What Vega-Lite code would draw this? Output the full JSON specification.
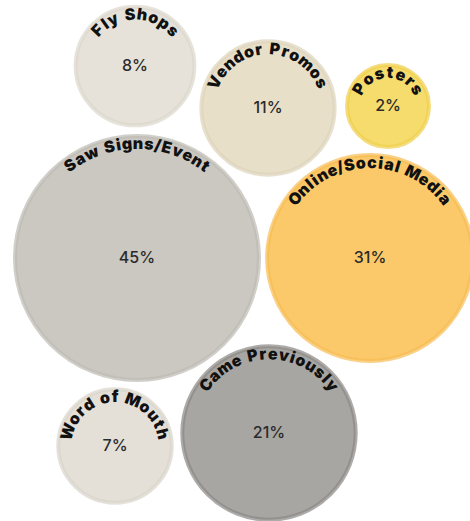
{
  "$schema": "https://vega.github.io/schema/vega-lite/v6.json",
  "autosize": {"type": "none"},
  "width": 470,
  "height": 521,
  "padding": 0,
  "background": "#ffffff",
  "config": {"view": {"stroke": null}},
  "data": {
    "values": [
      {"label": "Fly Shops", "value": 0.08, "x": 135, "y": 66},
      {"label": "Vendor Promos", "value": 0.11, "x": 268, "y": 108},
      {"label": "Posters", "value": 0.02, "x": 388, "y": 106},
      {"label": "Saw Signs/Event", "value": 0.45, "x": 137, "y": 258},
      {"label": "Online/Social Media", "value": 0.31, "x": 370, "y": 258},
      {"label": "Word of Mouth", "value": 0.07, "x": 115, "y": 446},
      {"label": "Came Previously", "value": 0.21, "x": 269, "y": 433}
    ]
  },
  "encoding": {
    "x": {"field": "x", "type": "quantitative", "scale": {"domain": [0, 470], "nice": false, "zero": false}, "axis": null},
    "y": {"field": "y", "type": "quantitative", "scale": {"domain": [0, 521], "nice": false, "zero": false, "reverse": true}, "axis": null}
  },
  "layer": [
    {
      "mark": {"type": "circle", "opacity": 1, "strokeOpacity": 0.7},
      "encoding": {
        "size": {"field": "value", "type": "quantitative", "scale": {"type": "linear", "domain": [0.02, 0.45], "range": [6724, 59536], "zero": false}, "legend": null},
        "color": {"field": "label", "type": "nominal", "legend": null, "scale": {
          "domain": ["Fly Shops", "Vendor Promos", "Posters", "Saw Signs/Event", "Online/Social Media", "Word of Mouth", "Came Previously"],
          "range": ["#e6e2d9", "#e8dfc8", "#f5dc6c", "#cbc8c2", "#fbc96a", "#e4e0d8", "#a8a6a2"]}},
        "stroke": {"field": "label", "type": "nominal", "legend": null, "scale": {
          "domain": ["Fly Shops", "Vendor Promos", "Posters", "Saw Signs/Event", "Online/Social Media", "Word of Mouth", "Came Previously"],
          "range": ["#dcd7cc", "#ddd3ba", "#efcf4c", "#bdbab4", "#f7bc52", "#d9d4ca", "#8a8884"]}},
        "strokeWidth": {"field": "label", "type": "nominal", "legend": null, "scale": {
          "domain": ["Fly Shops", "Vendor Promos", "Posters", "Saw Signs/Event", "Online/Social Media", "Word of Mouth", "Came Previously"],
          "range": [4, 4, 4, 6, 4, 4, 9]}}
      }
    },
    {
      "mark": {"type": "text", "font": "Inter", "fontSize": 16, "fontWeight": 500, "color": "#2b2b2b", "baseline": "middle", "align": "center"},
      "encoding": {
        "text": {"field": "value", "type": "quantitative", "format": ".0%"}
      }
    },
    {
      "transform": [
        {"calculate": "sqrt(6724 + (datum.value - 0.02) * 122818.6) / 2", "as": "r"},
        {"calculate": "split(datum.label, '')", "as": "chars"},
        {"flatten": ["chars"], "as": ["ch"]},
        {"calculate": "indexof('iljI/|', datum.ch) >= 0 ? 6 : (indexof('rtf', datum.ch) >= 0 ? 8 : (datum.ch == ' ' ? 5 : (indexof('mwMW', datum.ch) >= 0 ? 14.5 : (upper(datum.ch) == datum.ch ? 11.5 : 10.5))))", "as": "w"},
        {"window": [{"op": "sum", "field": "w", "as": "cum"}], "groupby": ["label"], "frame": [null, 0]},
        {"joinaggregate": [{"op": "sum", "field": "w", "as": "total"}], "groupby": ["label"]},
        {"calculate": "datum.r - 13", "as": "R"},
        {"calculate": "(datum.cum - datum.w / 2 - datum.total / 2) / datum.R", "as": "a"},
        {"calculate": "datum.x + datum.R * sin(datum.a)", "as": "tx"},
        {"calculate": "datum.y - datum.R * cos(datum.a)", "as": "ty"},
        {"calculate": "datum.a * 180 / PI", "as": "deg"}
      ],
      "mark": {"type": "text", "font": "Inter", "fontSize": 16, "fontWeight": 900, "color": "#111111", "baseline": "alphabetic", "align": "center"},
      "encoding": {
        "x": {"field": "tx", "type": "quantitative"},
        "y": {"field": "ty", "type": "quantitative"},
        "text": {"field": "ch", "type": "nominal"},
        "angle": {"field": "deg", "type": "quantitative", "scale": null}
      }
    }
  ]
}
